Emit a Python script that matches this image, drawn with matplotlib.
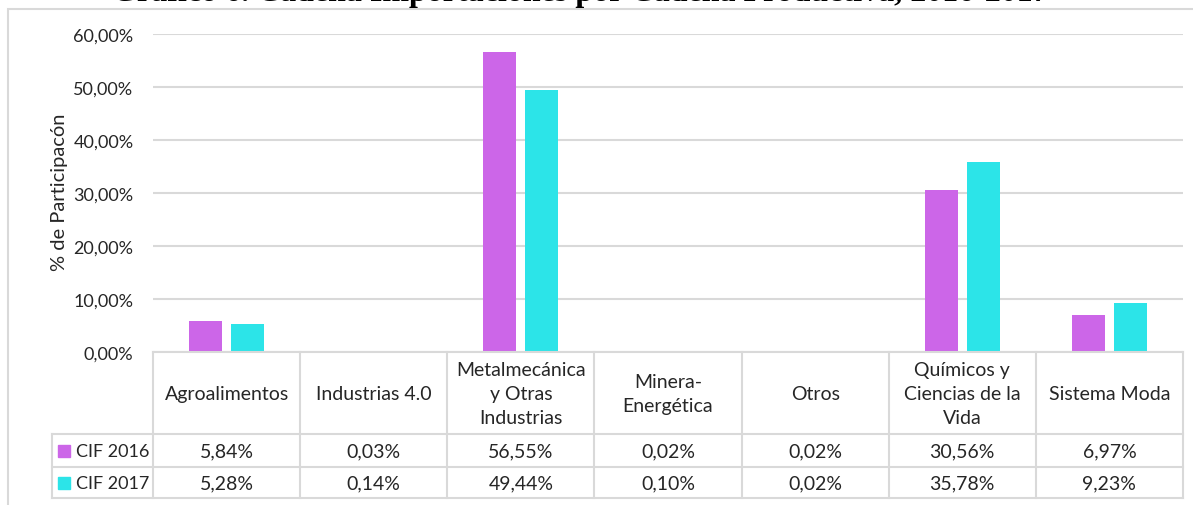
import matplotlib
matplotlib.use("Agg")
import matplotlib.pyplot as plt
import matplotlib.transforms as mtransforms
from matplotlib.patches import Rectangle
import numpy as np

categories = ["Agroalimentos", "Industrias 4.0", "Metalmecánica\ny Otras\nIndustrias",
              "Minera-\nEnergética", "Otros", "Químicos y\nCiencias de la\nVida", "Sistema Moda"]
series_names = ["CIF 2016", "CIF 2017"]
cif_2016 = [5.84, 0.03, 56.55, 0.02, 0.02, 30.56, 6.97]
cif_2017 = [5.28, 0.14, 49.44, 0.10, 0.02, 35.78, 9.23]
labels_2016 = ["5,84%", "0,03%", "56,55%", "0,02%", "0,02%", "30,56%", "6,97%"]
labels_2017 = ["5,28%", "0,14%", "49,44%", "0,10%", "0,02%", "35,78%", "9,23%"]
yticks = [0, 10, 20, 30, 40, 50, 60]
ytick_labels = ["0,00%", "10,00%", "20,00%", "30,00%", "40,00%", "50,00%", "60,00%"]
title = "Gráfico 6. Cadena Importaciones por Cadena Productiva, 2016-2017"
ylabel = "% de Participacón"

colors = ["#CC66E8", "#2CE4E8"]
grid_c = "#D9D9D9"
txt_c = "#262626"
FONT = "Lato"
FS = 13
FS_T = 14

W, H = 1193, 506
fig = plt.figure(figsize=(W / 100, H / 100), dpi=100)

# chart border
fig.patches.append(Rectangle((8 / W, -0.1), 1.2, 1.1 - 10 / H, transform=fig.transFigure,
                             fill=False, edgecolor=grid_c, linewidth=1.5))

ax = fig.add_axes([153 / W, (H - 353) / H, 1030 / W, 318 / H])
x = np.arange(len(categories))
bw = 0.225
off = 0.143
ax.bar(x - off, cif_2016, width=bw, color=colors[0], zorder=3)
ax.bar(x + off, cif_2017, width=bw, color=colors[1], zorder=3)

ax.set_xlim(-0.5, len(categories) - 0.5)
ax.set_ylim(0, 60)
ax.set_yticks(yticks)
ax.set_yticklabels(ytick_labels, fontsize=FS, color=txt_c, family=FONT)
ax.tick_params(axis="y", length=0, pad=14)
ax.set_xticks([])
for s in ax.spines.values():
    s.set_visible(False)
ax.grid(axis="y", color=grid_c, linewidth=1.5, zorder=0)
ax.set_axisbelow(True)

# data table below the axis
tr = mtransforms.blended_transform_factory(ax.transData, ax.transAxes)
y_top, y_h, y_r1, y_r2 = 0.0, -0.258, -0.362, -0.459
x_left = -1.187
lk = dict(color=grid_c, linewidth=1.5, transform=tr, clip_on=False, zorder=5)
ax.plot([-0.5, 6.5], [y_top, y_top], **lk)
for yy in (y_h, y_r1, y_r2):
    ax.plot([x_left, 6.5], [yy, yy], **lk)
for xb in np.arange(-0.5, 7.0, 1.0):
    ax.plot([xb, xb], [y_top, y_r2], **lk)
ax.plot([x_left, x_left], [y_h, y_r2], **lk)

for i, c in enumerate(categories):
    ax.text(i, (y_top + y_h) / 2, c, transform=tr, ha="center", va="center",
            fontsize=FS_T, color=txt_c, family=FONT, linespacing=1.5)
    ax.text(i, (y_h + y_r1) / 2, labels_2016[i], transform=tr, ha="center", va="center",
            fontsize=FS_T, color=txt_c, family=FONT)
    ax.text(i, (y_r1 + y_r2) / 2, labels_2017[i], transform=tr, ha="center", va="center",
            fontsize=FS_T, color=txt_c, family=FONT)

for (yc, name, col) in [((y_h + y_r1) / 2, series_names[0], colors[0]),
                        ((y_r1 + y_r2) / 2, series_names[1], colors[1])]:
    ax.plot([-1.102], [yc], marker="s", markersize=8.6, color=col, transform=tr,
            clip_on=False, linestyle="none")
    ax.text(-1.023, yc, name, transform=tr, ha="left", va="center",
            fontsize=FS, color=txt_c, family=FONT)

fig.text(60 / W, (H - 192) / H, ylabel, rotation=90, ha="center", va="center",
         fontsize=14.5, color=txt_c, family=FONT)

fig.text(580 / W, 1 - 1.5 / H, title, ha="center", va="baseline", fontsize=23,
         family="Liberation Serif", weight="bold", color="black")

fig.savefig("out.png", dpi=100)
